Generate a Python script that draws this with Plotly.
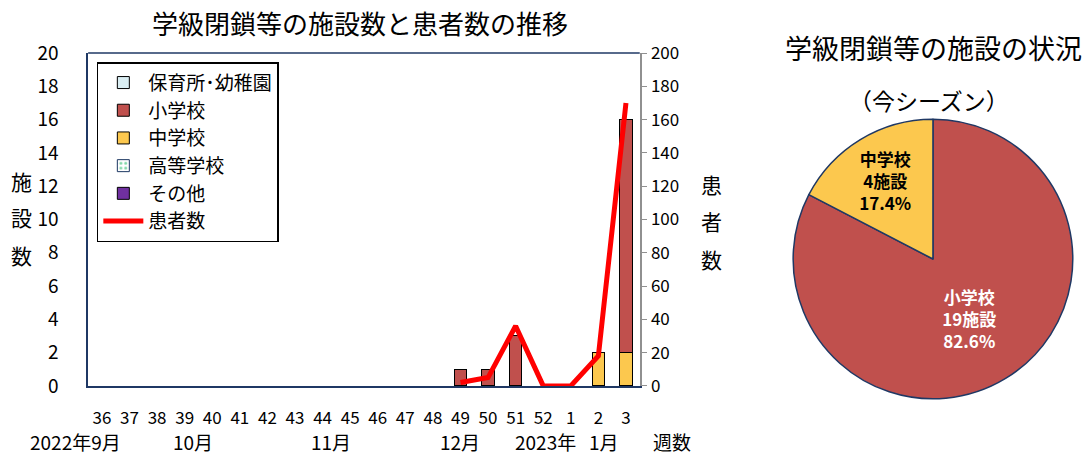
import plotly.graph_objects as go

weeks = ["36","37","38","39","40","41","42","43","44","45","46","47","48","49","50","51","52","1","2","3"]
nursery = [None]*20
elementary = [None]*13 + [1, 1, 3, None, None, None, 14]
junior = [None]*18 + [2, 2]
high = [None]*20
other = [None]*20
patients = [None]*13 + [2, 5, 36, 0, 0, 18, 170]

month_labels = ["2022年9月", "10月", "11月", "12月", "2023年", "1月"]
month_pos = [-0.95, 3.3, 8.3, 13.0, 16.1, 18.2]

pie_labels = ["小学校", "中学校"]
pie_values = [19, 4]

FONT = "Noto Sans CJK JP"
NAVY = "#1F3864"
RED_BAR = "#C0504D"
YELLOW = "#FCC84E"

xi = list(range(len(weeks)))
XDOM = [0.081, 0.588]

fig = go.Figure()

fig.add_trace(go.Bar(x=xi, y=nursery, name="保育所･幼稚園", legendrank=1,
                     marker=dict(color="#DAEEF3", line=dict(color="black", width=1))))
fig.add_trace(go.Bar(x=xi, y=junior, name="中学校", legendrank=3,
                     marker=dict(color=YELLOW, line=dict(color="black", width=1))))
fig.add_trace(go.Bar(x=xi, y=elementary, name="小学校", legendrank=2,
                     marker=dict(color=RED_BAR, line=dict(color="black", width=1))))
fig.add_trace(go.Bar(x=xi, y=high, name="高等学校", legendrank=4,
                     marker=dict(color="white", line=dict(color=NAVY, width=1),
                                 pattern=dict(shape=".", fgcolor="#00B050", bgcolor="white", size=6, solidity=0.3))))
fig.add_trace(go.Bar(x=xi, y=other, name="その他", legendrank=5,
                     marker=dict(color="#7030A0", line=dict(color="black", width=1))))
fig.add_trace(go.Scatter(x=xi, y=patients, name="患者数", legendrank=6, yaxis="y2",
                         mode="lines", line=dict(color="#FF0000", width=5)))

fig.add_trace(go.Pie(labels=pie_labels, values=pie_values, sort=False, direction="clockwise",
                     rotation=0, showlegend=False,
                     domain=dict(x=[0.729, 0.986], y=[0.121, 0.738]),
                     marker=dict(colors=[RED_BAR, YELLOW], line=dict(color=NAVY, width=1.5)),
                     texttemplate="%{label}<br>%{value}施設<br>%{percent:.1%}",
                     textposition="inside", insidetextorientation="horizontal",
                     textfont=dict(family=FONT, size=17, color=["white", "black"], weight="bold"),
                     hoverinfo="skip"))

fig.update_layout(
    width=1088, height=454,
    margin=dict(l=0, r=0, t=0, b=0, autoexpand=False),
    paper_bgcolor="white", plot_bgcolor="white",
    barmode="stack", bargap=0.56,
    font=dict(family=FONT, size=17, color="black"),
    showlegend=True,
    legend=dict(x=0.089, y=0.863, xanchor="left", yanchor="top",
                bgcolor="white", bordercolor="black", borderwidth=1.5,
                traceorder="normal", font=dict(size=19, family=FONT),
                tracegroupgap=0, itemwidth=40),
    xaxis=dict(domain=XDOM, range=[-0.5, len(weeks) - 0.5], tickmode="array",
               tickvals=xi, ticktext=weeks, showgrid=False, automargin=False, zeroline=False,
               showline=True, linecolor=NAVY, linewidth=1.5, mirror=False,
               ticks="", ticklabelstandoff=16, tickfont=dict(size=17)),
    yaxis=dict(domain=[0.150, 0.883], range=[0, 20], dtick=2, showgrid=False, showline=True,
               linecolor=NAVY, automargin=False,
               linewidth=1.5, ticks="", ticklabelstandoff=24, tickfont=dict(size=19),
               zeroline=False),
    yaxis2=dict(range=[0, 200], dtick=20, overlaying="y", side="right", showgrid=False,
                showline=True, linecolor="#909090", linewidth=1.5, ticks="outside", automargin=False,
                tickcolor="#909090", ticklen=6, tickfont=dict(size=17), zeroline=False),
)

# top frame line
fig.add_shape(type="line", xref="x domain", yref="y domain", x0=0, x1=1, y0=1, y1=1,
              line=dict(color=NAVY, width=1.5))

annotations = []
annotations.append(dict(text="学級閉鎖等の施設数と患者数の推移", x=360/1088, y=1-22/454, xref="paper", yref="paper",
                        showarrow=False, font=dict(size=26), xanchor="center", yanchor="middle"))
annotations.append(dict(text="学級閉鎖等の施設の状況", x=933/1088, y=1-47/454, xref="paper", yref="paper",
                        showarrow=False, font=dict(size=27), xanchor="center", yanchor="middle"))
annotations.append(dict(text="（今シーズン）", x=929/1088, y=1-100/454, xref="paper", yref="paper",
                        showarrow=False, font=dict(size=23), xanchor="center", yanchor="middle"))
for ch, yy in zip("施設数", [181, 217, 255]):
    annotations.append(dict(text=ch, x=21/1088, y=1-yy/454, xref="paper", yref="paper",
                            showarrow=False, font=dict(size=21), xanchor="center", yanchor="middle"))
for ch, yy in zip("患者数", [184, 221, 259]):
    annotations.append(dict(text=ch, x=711/1088, y=1-yy/454, xref="paper", yref="paper",
                            showarrow=False, font=dict(size=21), xanchor="center", yanchor="middle"))
n = len(weeks)
for lab, pos in zip(month_labels, month_pos):
    px = XDOM[0] + (pos + 0.5) / n * (XDOM[1] - XDOM[0])
    annotations.append(dict(text=lab, x=px, y=1-441/454, xref="paper", yref="paper",
                            showarrow=False, font=dict(size=19), xanchor="center", yanchor="middle"))
annotations.append(dict(text="週数", x=672/1088, y=1-441/454, xref="paper", yref="paper",
                        showarrow=False, font=dict(size=19), xanchor="center", yanchor="middle"))
fig.update_layout(annotations=annotations)

fig.write_html("out.html", config={"displayModeBar": False},
               post_script="document.body.style.margin='0';document.body.style.overflow='hidden';")
